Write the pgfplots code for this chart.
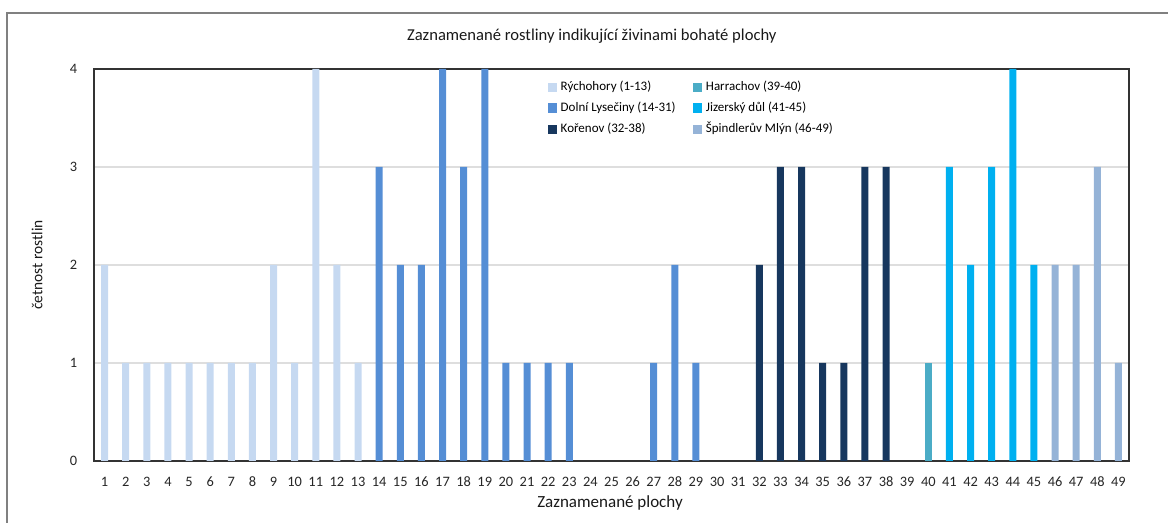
\documentclass[border=0pt]{standalone}
\usepackage{fontspec}
\setmainfont{Carlito}
\usepackage{pgfplots}
\pgfplotsset{compat=1.18}
\definecolor{cRych}{HTML}{C6D9F1}
\definecolor{cDolni}{HTML}{558ED5}
\definecolor{cKor}{HTML}{17375E}
\definecolor{cHarr}{HTML}{4BACC6}
\definecolor{cJiz}{HTML}{00B0F0}
\definecolor{cSpin}{HTML}{95B3D7}
\begin{document}
\begin{tikzpicture}
\useasboundingbox (0pt,0pt) rectangle (584pt,261.5pt);
\draw[black!50, line width=1pt] (3.5pt,0pt) -- (3.5pt,255pt) -- (584pt,255pt);
\begin{axis}[
  anchor=south west, at={(47pt,31pt)},
  width=517.5pt, height=196pt, scale only axis,
  xmin=0.5, xmax=49.5, ymin=0, ymax=4,
  xtick={1,...,49}, ytick={0,...,4},
  ymajorgrids, grid style={draw=black!13, line width=0.6pt},
  axis line style={draw=black!80, line width=0.6pt},
  major tick length=0pt,
  /pgf/number format/assume math mode=true,
  tick label style={font=\fontsize{7.2}{8}\selectfont, text=black!85},
  xticklabel style={anchor=center, yshift=-10.5pt},
  yticklabel style={anchor=center, xshift=-10.3pt},
  title={Zaznamenané rostliny indikující živinami bohaté plochy},
  title style={at={(axis description cs:0.481,1.054)}, anchor=center, yshift=0pt, font=\fontsize{8.3}{9}\selectfont, text=black!90},
  xlabel={Zaznamenané plochy},
  xlabel style={at={(axis description cs:0.4986,-0.107)}, anchor=center, font=\fontsize{8.5}{9}\selectfont, text=black!90},
  ylabel={četnost rostlin},
  ylabel style={at={(axis description cs:-0.055,0.5)}, anchor=center, rotate=0, font=\fontsize{7.7}{9}\selectfont, text=black!90},
  legend columns=2,
  legend style={at={(axis description cs:0.432,0.99)}, anchor=north west, draw=none, fill=none,
    font=\fontsize{6.5}{8}\selectfont, row sep=0pt,
    /tikz/every even column/.append style={column sep=6.5pt}},
  legend cell align=left,
  legend image code/.code={\fill[#1] (0pt,-2.3pt) rectangle (4.6pt,2.3pt);},
]
\addplot[ybar, bar width=3.5pt, bar shift=0pt, fill=cRych, draw=none] coordinates {(1,2)(2,1)(3,1)(4,1)(5,1)(6,1)(7,1)(8,1)(9,2)(10,1)(11,4)(12,2)(13,1)};
\addlegendentry{Rýchohory (1-13)}
\addplot[ybar, bar width=3.5pt, bar shift=0pt, fill=cHarr, draw=none] coordinates {(40,1)};
\addlegendentry{Harrachov (39-40)}
\addplot[ybar, bar width=3.5pt, bar shift=0pt, fill=cDolni, draw=none] coordinates {(14,3)(15,2)(16,2)(17,4)(18,3)(19,4)(20,1)(21,1)(22,1)(23,1)(27,1)(28,2)(29,1)};
\addlegendentry{Dolní Lysečiny (14-31)}
\addplot[ybar, bar width=3.5pt, bar shift=0pt, fill=cJiz, draw=none] coordinates {(41,3)(42,2)(43,3)(44,4)(45,2)};
\addlegendentry{Jizerský důl (41-45)}
\addplot[ybar, bar width=3.5pt, bar shift=0pt, fill=cKor, draw=none] coordinates {(32,2)(33,3)(34,3)(35,1)(36,1)(37,3)(38,3)};
\addlegendentry{Kořenov (32-38)}
\addplot[ybar, bar width=3.5pt, bar shift=0pt, fill=cSpin, draw=none] coordinates {(46,2)(47,2)(48,3)(49,1)};
\addlegendentry{Špindlerův Mlýn (46-49)}
\end{axis}
\end{tikzpicture}
\end{document}
